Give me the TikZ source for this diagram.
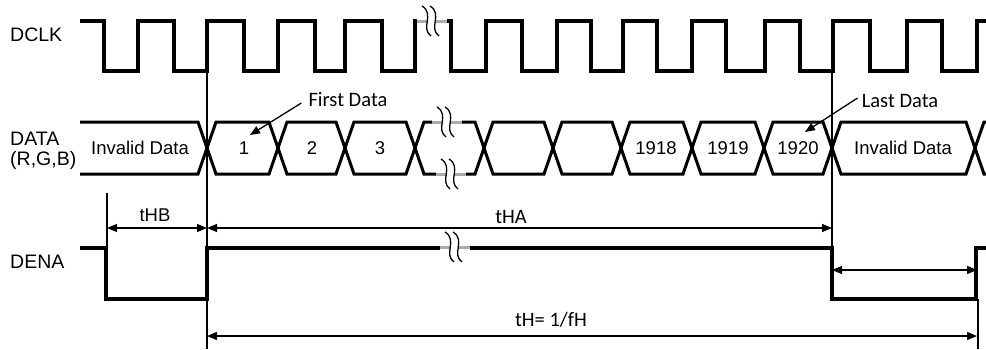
\documentclass[tikz,border=0pt]{standalone}
\usepackage{fontspec}
\setmainfont{Liberation Sans}
\newfontfamily\calfont{Carlito}
\usetikzlibrary{arrows.meta}

\tikzset{
  sig/.style={line width=3.5pt},
  bus/.style={line width=3pt},
  refline/.style={line width=1.1pt},
  dim/.style={line width=1.3pt, {Triangle[length=10pt,width=8pt]}-{Triangle[length=10pt,width=8pt]}},
  ptr/.style={line width=1.3pt, -{Triangle[length=10pt,width=8pt]}},
  signame/.style={anchor=west, inner sep=0pt, font=\fontsize{19.5}{22}\selectfont},
  datalbl/.style={inner sep=0pt, font=\fontsize{18.5}{21}\selectfont},
  note/.style={inner sep=0pt, font=\calfont\fontsize{20.5}{23}\selectfont},
}

% break mark on a signal line
\newcommand\brkmark[2]{%
  \draw[white, line width=5pt] (#1-15,#2) -- (#1+15,#2);
  \draw[gray!65, line width=3pt] (#1-15,#2) -- (#1+15,#2);
  \fill[white] (#1-4,#2-3) rectangle (#1+3,#2+3);
  \draw[line width=1.3pt] (#1-10,#2-15) .. controls (#1+3,#2-7) and (#1-12,#2+7) .. (#1-1,#2+15);
  \draw[line width=1.3pt] (#1-2,#2-15) .. controls (#1+11,#2-7) and (#1-4,#2+7) .. (#1+7,#2+15);
}

\begin{document}
\begin{tikzpicture}[x=1pt, y=-1pt]
  \useasboundingbox (0,0) rectangle (986,349);

  % signal names
  \node[signame] (dclk) at (10,35) {DCLK};
  \node[signame] (data) at (10,139) {DATA};
  \node[signame] (rgb) at (10,160) {(R,G,B)};
  \node[signame] (dena) at (10,262) {DENA};

  % reference lines
  \draw[refline] (207,71) -- (207,349);
  \draw[refline] (832,71) -- (832,248);
  \draw[refline] (107,193) -- (107,248);
  \draw[refline] (978,299) -- (978,349);

  % DCLK
  \draw[sig] (80,21) -- (104,21) -- (104,71) -- (138,71) -- (138,21) -- (174,21) -- (174,71)
    -- (207,71) -- (207,21) -- (244,21) -- (244,71) -- (278,71) -- (278,21) -- (315,21)
    -- (315,71) -- (345,71) -- (345,21) -- (382,21) -- (382,71) -- (415,71) -- (415,21)
    -- (451,21) -- (451,71) -- (486,71) -- (486,21) -- (522,21) -- (522,71) -- (557,71)
    -- (557,21) -- (591,21) -- (591,71) -- (623,71) -- (623,21) -- (657,21) -- (657,71)
    -- (692,71) -- (692,21) -- (726,21) -- (726,71) -- (765,71) -- (765,21) -- (800,21)
    -- (800,71) -- (833,71) -- (833,21) -- (870,21) -- (870,71) -- (907,71) -- (907,21)
    -- (942,21) -- (942,71) -- (977,71) -- (977,21) -- (990,21);

  % DATA bus
  \draw[bus] (80,122) -- (198,122) -- (216,174) -- (269,174) -- (287,122) -- (336,122)
    -- (354,174) -- (406,174) -- (424,122) -- (475,122) -- (493,174) -- (544,174)
    -- (562,122) -- (612,122) -- (630,174) -- (683,174) -- (701,122) -- (755,122)
    -- (773,174) -- (823,174) -- (841,122) -- (966,122) -- (984,174) -- (990,174);
  \draw[bus] (80,174) -- (198,174) -- (216,122) -- (269,122) -- (287,174) -- (336,174)
    -- (354,122) -- (406,122) -- (424,174) -- (475,174) -- (493,122) -- (544,122)
    -- (562,174) -- (612,174) -- (630,122) -- (683,122) -- (701,174) -- (755,174)
    -- (773,122) -- (823,122) -- (841,174) -- (966,174) -- (984,122) -- (990,122);

  \node[datalbl] (inv1) at (140,148) {Invalid Data};
  \node[datalbl] (d1) at (244,148) {1};
  \node[datalbl] (d2) at (312,148) {2};
  \node[datalbl] (d3) at (380,148) {3};
  \node[datalbl] (d1918) at (656,148) {1918};
  \node[datalbl] (d1919) at (728,148) {1919};
  \node[datalbl] (d1920) at (798,148) {1920};
  \node[datalbl] (inv2) at (903,148) {Invalid Data};

  % DENA
  \draw[sig] (80,248) -- (106,248) -- (106,299) -- (207,299) -- (207,248) -- (832,248)
    -- (832,299) -- (976,299) -- (976,248) -- (990,248);

  % breaks
  \brkmark{432}{21}
  \brkmark{447}{122}
  \brkmark{451}{174}
  \brkmark{455}{247}

  % first / last data
  \node[note] (first) at (348,100) {First Data};
  \node[note] (last) at (900,101) {Last Data};
  \coordinate (firsttip) at (250,135);
  \coordinate (lasttip) at (805,132);
  \draw[ptr] ([shift={(-7,3)}]first.west) -- (firsttip);
  \draw[ptr] ([shift={(-4,-3)}]last.west) -- (lasttip);

  % timing
  \coordinate (hbL) at (107,228);
  \coordinate (hbR) at (207,228);
  \coordinate (haR) at (832,228);
  \coordinate (lowL) at (832,270);
  \coordinate (lowR) at (977,270);
  \coordinate (thL) at (207,336);
  \coordinate (thR) at (977,336);
  \draw[dim] (hbL) -- (hbR);
  \draw[dim] (hbR) -- (haR);
  \draw[dim] (lowL) -- (lowR);
  \draw[dim] (thL) -- (thR);
  \node[datalbl] (thb) at (155,215) {tHB};
  \node[note] (tha) at (511,217) {tHA};
  \node[note] (th) at (551,320) {tH= 1/fH};
\end{tikzpicture}
\end{document}
